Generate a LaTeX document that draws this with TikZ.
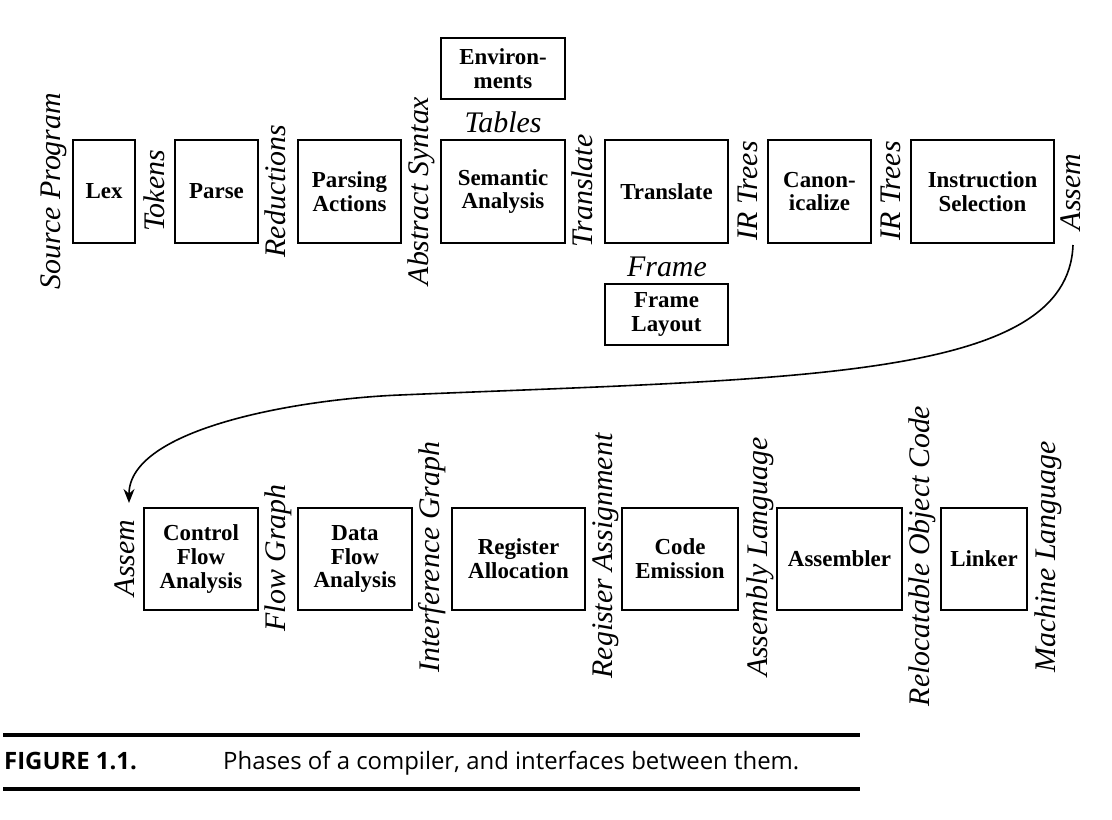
\documentclass[tikz,border=0pt]{standalone}
\usepackage{fontspec}
\setmainfont{Liberation Serif}
\newfontfamily\capfont{Open Sans}
\usetikzlibrary{arrows.meta}
\begin{document}
\begin{tikzpicture}[x=1bp,y=-1bp,
  box/.style={draw, line width=1.8bp, inner sep=0pt, align=center,
    font=\fontsize{23}{24}\selectfont\bfseries},
  rowA/.style={box, minimum height=103bp},
  rowB/.style={box, minimum height=102bp},
  side/.style={box, minimum height=61bp},
  lab/.style={rotate=90, inner sep=0pt, font=\fontsize{30}{32}\selectfont\itshape,
    text height=0.68em, text depth=0.2em},
  hlab/.style={inner sep=0pt, font=\fontsize{30}{32}\selectfont\itshape},
  rule/.style={line width=3.8bp},
  capfig/.style={anchor=base west, inner sep=0pt, font=\capfont\bfseries\fontsize{24}{26}\selectfont},
  captext/.style={anchor=base west, inner sep=0pt, font=\capfont\fontsize{24}{26}\selectfont},
]
\useasboundingbox (0,0) rectangle (1112,820);

% top row boxes
\node[rowA, minimum width=62bp]  (lex)   at (104,191.5)   {Lex};
\node[rowA, minimum width=83bp]  (parse) at (216.5,191.5) {Parse};
\node[rowA, minimum width=103bp] (pact)  at (349.5,191.5) {Parsing\\Actions};
\node[rowA, minimum width=124bp] (sem)   at (503,191.5)   {Semantic\\Analysis};
\node[side, minimum width=124bp] (env)   at (503,68.5)    {Environ-\\ments};
\node[rowA, minimum width=123bp] (trans) at (666.5,191.5) {Translate};
\node[side, minimum width=123bp] (flay)  at (666.5,314.5) {Frame\\Layout};
\node[rowA, minimum width=103bp] (canon) at (819.5,191.5) {Canon-\\icalize};
\node[rowA, minimum width=143bp] (isel)  at (982.5,191.5) {Instruction\\Selection};

% top row labels
\node[lab] (lsrc)  at (58,191)  {Source Program};
\node[lab] (ltok)  at (162,191) {Tokens};
\node[lab] (lred)  at (283,191) {Reductions};
\node[lab] (labs)  at (426,191) {Abstract Syntax};
\node[lab] (ltr)   at (590,191) {Translate};
\node[lab] (lir1)  at (755,191) {IR Trees};
\node[lab] (lir2)  at (898,191) {IR Trees};
\node[lab] (lasA)  at (1078,192) {Assem};
\node[hlab] (ltab) at (503,122) {Tables};
\node[hlab] (lfr)  at (667,267) {Frame};

% bottom row boxes
\node[rowB, minimum width=114bp] (cfa)  at (201,559)   {Control\\Flow\\Analysis};
\node[rowB, minimum width=114bp] (dfa)  at (355,559)   {Data\\Flow\\Analysis};
\node[rowB, minimum width=133bp] (ralloc) at (518.5,559) {Register\\Allocation};
\node[rowB, minimum width=116bp] (cem)  at (680,559)   {Code\\Emission};
\node[rowB, minimum width=125bp] (asm)  at (839.5,559) {Assembler};
\node[rowB, minimum width=86bp]  (link) at (984,559)   {Linker};

% bottom row labels
\node[lab] (lasB) at (132,558)  {Assem};
\node[lab] (lfg)  at (283,558)  {Flow Graph};
\node[lab] (lig)  at (437,557)  {Interference Graph};
\node[lab] (lra)  at (610,556)  {Register Assignment};
\node[lab] (lal)  at (765,557)  {Assembly Language};
\node[lab] (lro)  at (927,556)  {Relocatable Object Code};
\node[lab] (lml)  at (1053,557) {Machine Language};

% curved connector
\coordinate (arrS) at (1073,245);
\coordinate (arrM) at (400,395);
\coordinate (arrE) at (129,503);
\draw[line width=1.6bp, -{Stealth[length=14bp,width=11bp]}]
  (arrS) .. controls (1068,380) and (800,378) .. (arrM)
         .. controls (300,399) and (129,428) .. (arrE);

% caption
\draw[rule] (3,735) -- (860,735);
\node[capfig]  (fig) at (4,769)  {FIGURE 1.1.};
\node[captext] (cap) at (223,769) {Phases of a compiler, and interfaces between them.};
\draw[rule] (3,789) -- (860,789);
\end{tikzpicture}
\end{document}
